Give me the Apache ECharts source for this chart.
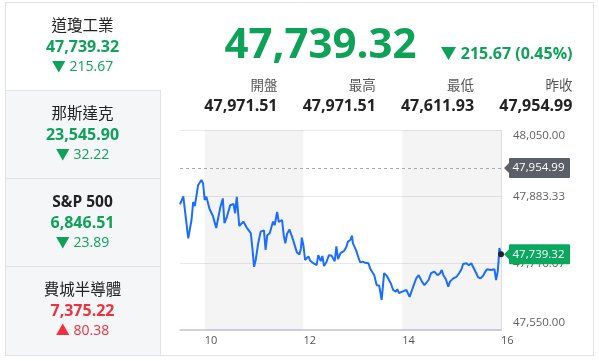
<!DOCTYPE html>
<html>
<head>
<meta charset="utf-8">
<script src="https://cdn.jsdelivr.net/npm/echarts@6/dist/echarts.min.js"></script>
<style>
html,body{margin:0;padding:0;background:#fff;}
#c{width:599px;height:361px;}
</style>
</head>
<body>
<div id="c"></div>
<script>
// ---- data ----
const tabNames = ['道瓊工業', '那斯達克', 'S&P 500', '費城半導體'];
const tabValues = [47739.32, 23545.90, 6846.51, 7375.22];
const tabChanges = [-215.67, -32.22, -23.89, 80.38];

const lastPrice = 47739.32;
const lastChange = -215.67;
const lastPct = 0.45;
const statLabels = ['開盤', '最高', '最低', '昨收'];
const statValues = [47971.51, 47971.51, 47611.93, 47954.99];
const prevClose = 47954.99;

const yTicks = [47550, 47716.67, 47883.33, 48050];
const xTickLabels = ['10', '12', '14', '16'];
const shadedBands = [['10:00', '12:00'], ['14:00', '16:00']];

const times = ['09:30','09:34','09:40','09:44','09:46','09:48','09:52','09:56','09:58','10:00',
'10:02','10:06','10:10','10:14','10:19','10:22','10:24','10:27','10:31','10:35',
'10:37','10:39','10:42','10:47','10:51','10:56','10:58','11:00','11:02','11:05',
'11:08','11:12','11:14','11:16','11:19','11:23','11:25','11:28','11:30','11:34',
'11:36','11:38','11:40','11:43','11:46','11:48','11:52','11:55','11:57','11:58',
'12:00','12:02','12:06','12:08','12:12','12:16','12:18','12:21','12:23','12:25',
'12:28','12:31','12:34','12:38','12:40','12:42','12:45','12:49','12:52','12:54',
'12:57','12:59','13:00','13:04','13:07','13:09','13:12','13:15','13:19','13:21',
'13:23','13:26','13:29','13:32','13:35','13:38','13:41','13:43','13:46','13:49',
'13:52','13:54','13:56','13:58','14:00','14:02','14:05','14:07','14:09','14:11',
'14:14','14:17','14:20','14:22','14:24','14:27','14:29','14:32','14:35','14:37',
'14:39','14:41','14:43','14:46','14:48','14:50','14:53','14:56','14:58','15:02',
'15:06','15:09','15:12','15:14','15:16','15:18','15:21','15:24','15:26','15:30',
'15:32','15:35','15:38','15:41','15:43','15:45','15:48','15:50','15:52','15:54',
'15:56','15:57','15:58','16:00'];
const prices = [47864,47884,47779,47825,47870,47860,47912,47925,47917,47875,
47883,47852,47835,47805,47857,47879,47817,47833,47862,47865,
47842,47883,47810,47821,47806,47792,47754,47708,47725,47767,
47796,47799,47750,47787,47792,47821,47812,47845,47820,47825,
47787,47767,47790,47801,47784,47771,47744,47739,47754,47781,
47761,47725,47734,47724,47717,47712,47737,47722,47735,47710,
47720,47737,47736,47722,47759,47727,47742,47747,47757,47771,
47775,47786,47767,47749,47730,47719,47721,47718,47717,47704,
47708,47687,47662,47661,47625,47692,47686,47685,47667,47650,
47646,47652,47642,47637,47646,47642,47650,47647,47633,47637,
47662,47679,47687,47692,47671,47662,47667,47675,47692,47687,
47696,47692,47687,47692,47700,47687,47677,47658,47671,47679,
47683,47692,47702,47715,47710,47717,47712,47717,47708,47692,
47682,47679,47685,47696,47702,47698,47700,47696,47702,47675,
47696,47721,47755,47739.32];

// ---- helpers ----
const toMin = t => { const p = t.split(':'); return (+p[0]) * 60 + (+p[1]); };
const fmt = v => Number(v).toLocaleString('en-US', {minimumFractionDigits: 2, maximumFractionDigits: 2});
const GREEN = '#0ea158';
const RED = '#f0303c';
const FONT = "'Open Sans', 'Noto Sans CJK TC', sans-serif";
const BORDER = '#dfe2e7';

const chart = echarts.init(document.getElementById('c'), null, {renderer: 'canvas'});

// ---- left tabs & header (graphic) ----
const g = [];
g.push({type: 'rect', shape: {x: 5, y: 90, width: 155, height: 266}, style: {fill: '#f5f6f8'}, z: 0});
const tabTops = [2, 90, 178, 266];
tabNames.forEach((name, i) => {
  const top = tabTops[i];
  const up = tabChanges[i] > 0;
  const col = up ? RED : GREEN;
  g.push({type: 'text', x: 82.5, y: top + 24.5, z: 10,
    style: {text: name, fill: '#222', align: 'center', verticalAlign: 'middle',
      font: (/[^\x00-\x7f]/.test(name) ? 'normal' : 'bold') + ' 15.5px ' + FONT}});
  g.push({type: 'text', x: 82.5, y: top + 45.5, z: 10,
    style: {text: fmt(tabValues[i]), fill: col, align: 'center', verticalAlign: 'middle', font: 'bold 16px ' + FONT}});
  g.push({type: 'text', x: 82.5, y: top + 65, z: 10,
    style: {text: (up ? '▲ ' : '▼ ') + fmt(Math.abs(tabChanges[i])), fill: col, align: 'center', verticalAlign: 'middle', font: 'normal 14px ' + FONT}});
});
const L = (x1, y1, x2, y2) => g.push({type: 'line', shape: {x1, y1, x2, y2}, style: {stroke: BORDER, lineWidth: 1}, z: 5});
L(5, 2.5, 594, 2.5);
L(5.5, 2, 5.5, 356);
L(593.5, 2, 593.5, 356);
L(5, 355.5, 594, 355.5);
L(5, 90.5, 160.5, 90.5);
L(5, 178.5, 160.5, 178.5);
L(5, 266.5, 160.5, 266.5);
L(160.5, 90, 160.5, 356);

// header
g.push({type: 'text', x: 320.5, y: 46.5, z: 10,
  style: {text: fmt(lastPrice), fill: GREEN, align: 'center', verticalAlign: 'middle', font: 'bold 42px ' + FONT}});
g.push({type: 'text', x: 572.5, y: 54.5, z: 10,
  style: {text: (lastChange < 0 ? '▼ ' : '▲ ') + fmt(Math.abs(lastChange)) + ' (' + lastPct.toFixed(2) + '%)',
    fill: lastChange < 0 ? GREEN : RED, align: 'right', verticalAlign: 'middle', font: 'bold 16px ' + FONT}});
statLabels.forEach((lab, i) => {
  const xr = 277.5 + i * 98.3;
  g.push({type: 'text', x: xr, y: 86, z: 10,
    style: {text: lab, fill: '#555', align: 'right', verticalAlign: 'middle', font: 'normal 13.5px ' + FONT}});
  g.push({type: 'text', x: xr, y: 106, z: 10,
    style: {text: fmt(statValues[i]), fill: '#222', align: 'right', verticalAlign: 'middle', font: 'bold 16px ' + FONT}});
});

const tagPath = 'path://M0,10L5,5L5,1Q5,0,6,0L65,0Q66,0,66,1L66,19Q66,20,65,20L6,20Q5,20,5,19L5,15Z';
const xMax = toMin(times[times.length - 1]);
const yMin = yTicks[0], yMax = yTicks[yTicks.length - 1];

const option = {
  animation: false,
  graphic: {elements: g},
  grid: {left: 180, right: 98, top: 130, bottom: 31, containLabel: false},
  xAxis: {
    type: 'value', min: toMin('09:30'), max: toMin('16:00'), interval: 30,
    axisLine: {lineStyle: {color: '#c5c8d3', width: 1.5}},
    axisTick: {show: false},
    splitLine: {show: false},
    axisLabel: {
      align: 'left', margin: 5, color: '#555', fontSize: 11, fontFamily: FONT,
      formatter: v => { const h = v / 60; return xTickLabels.indexOf(String(h)) >= 0 ? String(h) : ''; }
    }
  },
  yAxis: {
    type: 'value', position: 'right', min: yMin, max: yMax,
    interval: (yMax - yMin) / (yTicks.length - 1),
    axisLine: {show: true, lineStyle: {color: '#dcdde2'}},
    axisTick: {show: false},
    splitLine: {lineStyle: {color: '#e8e8e8'}},
    axisLabel: {
      margin: 12, color: '#606060', fontSize: 11.5, fontFamily: FONT,
      formatter: v => {
        if (v >= yMax - 0.01) return '{t|' + fmt(yMax) + '}';
        if (v <= yMin + 0.01) return '{b|' + fmt(yMin) + '}';
        return fmt(v);
      },
      rich: {
        t: {padding: [11, 0, 0, 0], color: '#606060', fontSize: 11.5, fontFamily: FONT},
        b: {padding: [0, 0, 14, 0], color: '#606060', fontSize: 11.5, fontFamily: FONT}
      }
    }
  },
  series: [{
    type: 'line',
    data: times.map((t, i) => [toMin(t), prices[i]]),
    symbol: 'none', showSymbol: false,
    lineStyle: {color: '#1a6dff', width: 2},
    z: 3,
    markArea: {
      silent: true,
      itemStyle: {color: 'rgba(0,0,0,0.045)'},
      data: shadedBands.map(b => [{xAxis: toMin(b[0])}, {xAxis: toMin(b[1])}])
    },
    markLine: {
      silent: true, symbol: 'none', animation: false,
      lineStyle: {color: '#aaaaaa', type: [3, 3], width: 1},
      label: {show: false},
      data: [{yAxis: prevClose}]
    },
    markPoint: {
      silent: true, animation: false,
      data: [
        {coord: [xMax, prevClose], symbol: tagPath, symbolSize: [66, 20], symbolOffset: [36, 0],
          itemStyle: {color: '#5b6068'},
          label: {show: true, position: 'inside', offset: [1.5, 0], formatter: fmt(prevClose), color: '#fff', fontSize: 11.5, fontFamily: FONT}},
        {coord: [xMax, lastPrice], symbol: tagPath, symbolSize: [66, 20], symbolOffset: [36, 0],
          itemStyle: {color: '#0aa85e'},
          label: {show: true, position: 'inside', offset: [1.5, 0], formatter: fmt(lastPrice), color: '#fff', fontSize: 11.5, fontFamily: FONT}},
        {coord: [xMax, lastPrice], symbol: 'circle', symbolSize: 6,
          itemStyle: {color: '#222'}, label: {show: false}}
      ]
    }
  }]
};
chart.setOption(option);
</script>
</body>
</html>
